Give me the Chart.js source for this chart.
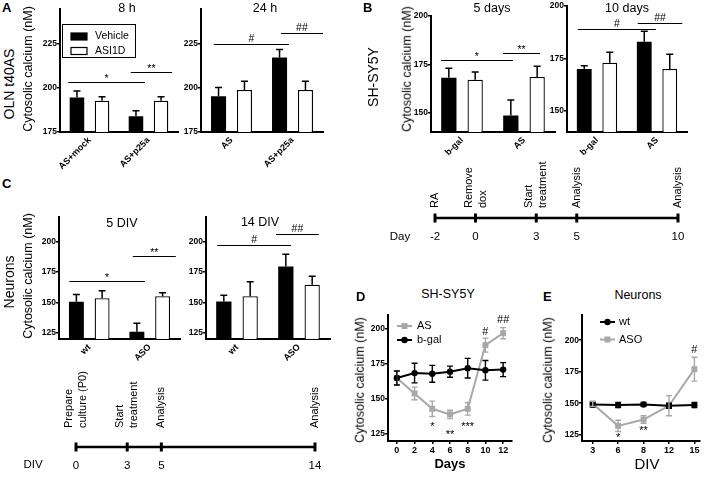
<!DOCTYPE html>
<html><head><meta charset="utf-8">
<script src="https://cdn.jsdelivr.net/npm/chart.js@4.4.1/dist/chart.umd.min.js"></script>
<style>
body{margin:0;background:#fff;}
#fig{position:relative;width:709px;height:482px;overflow:hidden;background:#fff;font-family:"Liberation Sans",Arial,sans-serif;color:#000;}
canvas{position:absolute;}
.t{position:absolute;white-space:nowrap;line-height:1;transform:translate(-50%,-50%);}
.t.r{transform:translate(-50%,-50%) rotate(-90deg);}
.t.c{transform:none;}
</style></head><body><div id="fig"></div>
<script>
// ---- data ----
var gray = '#a8a8a8';
var seriesNames = ['Vehicle', 'ASI1D'];

var cats8h = ['AS+mock', 'AS+p25a'];
var veh8h = [194.7, 183.9], veh8hErr = [3.6, 3.2];
var asi8h = [192.8, 192.8], asi8hErr = [2.2, 2.2];
var cats24h = ['AS', 'AS+p25a'];
var veh24h = [195.3, 217.4], veh24hErr = [5, 4.5];
var asi24h = [198.9, 198.9], asi24hErr = [5, 5];
var ticksA = [175, 200, 225];

var catsB = ['b-gal', 'AS'];
var veh5d = [168, 148.5], veh5dErr = [5, 8];
var asi5d = [167, 168.5], asi5dErr = [4, 5.5];
var veh10d = [170, 183], veh10dErr = [1.5, 5];
var asi10d = [173, 170], asi10dErr = [5, 7];
var ticksB = [150, 175, 200];

var catsC = ['wt', 'ASO'];
var veh5div = [150.5, 126], veh5divErr = [6, 7];
var asi5div = [153.5, 155], asi5divErr = [6, 3];
var veh14div = [150.8, 179.5], veh14divErr = [5, 10];
var asi14div = [155, 164.5], asi14divErr = [12, 7];
var ticksC = [125, 150, 175, 200];

// significance bars: [from, to (category units), level (nM), mark]
var sig8h = [[-0.36, 0.94, 203.2, '*'], [0.70, 1.40, 208.9, '**']];
var sig24h = [[-0.29, 0.94, 225.2, '#'], [0.81, 1.5, 231.6, '##']];
var sig5d = [[-0.34, 0.82, 177, '*'], [0.66, 1.26, 181, '**']];
var sig10d = [[-0.32, 0.98, 189, '#'], [0.68, 1.42, 191.8, '##']];
var sig5div = [[-0.33, 0.92, 167.8, '*'], [0.72, 1.43, 188, '**']];
var sig14div = [[-0.32, 0.87, 197, '#'], [0.63, 1.32, 205.8, '##']];

var daysB = [-2, 0, 3, 5, 10];
var eventsB = ['RA', 'Remove\ndox', 'Start\ntreatment', 'Analysis', 'Analysis'];
var daysC = [0, 3, 5, 14];
var eventsC = ['Prepare\nculture (P0)', 'Start\ntreatment', 'Analysis', 'Analysis'];

var daysD = [0, 2, 4, 6, 8, 10, 12];
var asD = [165, 154, 143, 139, 143, 188.5, 197], asDErr = [5, 4.5, 5.5, 3, 4.5, 5, 4];
var bgalD = [165, 168.5, 168, 169.5, 172, 170.5, 171], bgalDErr = [5, 7, 6, 4, 7, 7, 5];
var ticksDx = [0, 2, 4, 6, 8, 10, 12];
var ticksDy = [125, 150, 175, 200];
var notesD = [[4, 132.6, '*'], [6, 126.6, '**'], [8, 132.6, '***'], [10, 198.8, '#'], [12, 206.9, '##']];

var divE = ['3', '6', '8', '12', '15'];
var wtE = [149, 148.5, 149, 148, 148.5], wtEErr = [2, 2, 1.5, 2, 2];
var asoE = [149.5, 132, 137, 148, 177], asoEErr = [2, 4.5, 3, 8, 9.5];
var ticksEy = [125, 150, 175, 200];
var notesE = [[1, 124.8, '*'], [2, 130.9, '**'], [4, 193, '#']];

// ---- helpers ----
var FONT = '"Liberation Sans", Arial, sans-serif';
Chart.defaults.font.family = FONT;
Chart.defaults.color = '#000';
var fig = document.getElementById('fig');

function mkCanvas(l, t, w, h) {
  var c = document.createElement('canvas');
  c.width = w; c.height = h;
  c.style.left = l + 'px'; c.style.top = t + 'px';
  c.style.width = w + 'px'; c.style.height = h + 'px';
  fig.appendChild(c);
  return c;
}
function txt(s, x, y, size, o) {
  o = o || {};
  var d = document.createElement('div');
  d.className = 't' + (o.rot ? ' r' : '') + (o.corner ? ' c' : '');
  d.textContent = s;
  d.style.left = x + 'px'; d.style.top = y + 'px';
  d.style.fontSize = size + 'px';
  if (o.bold) d.style.fontWeight = 'bold';
  fig.appendChild(d);
}
function markText(ctx, s, x, yc, size) {
  // place the glyphs so their visual centre sits on yc
  var off = s.indexOf('#') >= 0 ? 0.36 : 0.57;
  ctx.font = size + 'px ' + FONT;
  ctx.textAlign = 'center';
  ctx.textBaseline = 'alphabetic';
  ctx.fillText(s, x, yc + off * size);
}
function setTicks(list) {
  return function (s) { s.ticks = list.map(function (v) { return { value: v }; }); };
}
var tickFont = { family: FONT, size: 8.5, weight: 'bold' };

function barChart(o) {
  var padL = 30, padT = 14, padR = 8, axH = 40;
  var w = o.box[2] - o.box[0], h = o.box[3] - o.box[1];
  var cv = mkCanvas(o.box[0] - padL, o.box[1] - padT, w + padL + padR, h + padT + axH);
  var decor = {
    id: 'decor',
    afterDatasetsDraw: function (chart) {
      var ctx = chart.ctx, xs = chart.scales.x, ys = chart.scales.y;
      ctx.save();
      ctx.strokeStyle = '#000'; ctx.fillStyle = '#000'; ctx.lineWidth = 1.5;
      chart.data.datasets.forEach(function (ds, i) {
        chart.getDatasetMeta(i).data.forEach(function (bar, j) {
          var top = ys.getPixelForValue(ds.data[j] + ds.err[j]);
          ctx.beginPath();
          ctx.moveTo(bar.x, bar.y); ctx.lineTo(bar.x, top);
          ctx.moveTo(bar.x - 3.5, top); ctx.lineTo(bar.x + 3.5, top);
          ctx.stroke();
        });
      });
      ctx.lineWidth = 1.2;
      o.sigs.forEach(function (s) {
        var a = xs.getPixelForValue(s[0]), b = xs.getPixelForValue(s[1]);
        var y = Math.round(ys.getPixelForValue(s[2])) + 0.5;
        ctx.beginPath(); ctx.moveTo(a, y); ctx.lineTo(b, y); ctx.stroke();
        markText(ctx, s[3], (a + b) / 2, y - 6.5, 10.5);
      });
      ctx.restore();
    },
    afterDraw: function (chart) {
      if (!o.legend) return;
      var ctx = chart.ctx, a = chart.chartArea, L = o.legend;
      var x = a.left + L.dx, y = a.top + L.dy;
      ctx.save();
      ctx.lineWidth = 1; ctx.strokeStyle = '#000';
      ctx.strokeRect(x + 0.5, y + 0.5, L.w, L.h);
      ctx.font = '10.5px ' + FONT; ctx.textBaseline = 'middle'; ctx.textAlign = 'left';
      chart.data.datasets.forEach(function (ds, i) {
        var yy = y + 12.5 + i * 14.5;
        ctx.fillStyle = ds.backgroundColor;
        ctx.fillRect(x + 9, yy - 3.5, 16, 7);
        ctx.lineWidth = 1.2; ctx.strokeRect(x + 9, yy - 3.5, 16, 7);
        ctx.fillStyle = '#000';
        ctx.fillText(ds.label, x + 33, yy);
      });
      ctx.restore();
    }
  };
  new Chart(cv, {
    type: 'bar',
    data: {
      labels: o.labels,
      datasets: [
        { label: seriesNames[0], data: o.veh, err: o.vehErr, backgroundColor: '#000', borderColor: '#000', borderWidth: 0,
          categoryPercentage: 0.85, barPercentage: 0.58 },
        { label: seriesNames[1], data: o.asi, err: o.asiErr, backgroundColor: '#fff', borderColor: '#000', borderWidth: 1.3,
          categoryPercentage: 0.85, barPercentage: 0.58 }
      ]
    },
    options: {
      responsive: false, animation: false,
      layout: { padding: { top: padT, right: padR, left: 0, bottom: 0 } },
      plugins: { legend: { display: false }, tooltip: { enabled: false } },
      scales: {
        x: {
          afterFit: function (s) { s.height = axH; },
          grid: { display: false, drawTicks: false },
          border: { display: true, color: '#000', width: 2 },
          ticks: { minRotation: 45, maxRotation: 45, padding: 3, autoSkip: false,
            font: { family: FONT, size: 9, weight: 'bold' }, color: '#000' }
        },
        y: {
          min: o.yMin, max: o.yMax,
          afterBuildTicks: setTicks(o.yTicks),
          afterFit: function (s) { s.width = padL; },
          grid: { display: true, drawOnChartArea: false, drawTicks: true, tickLength: 3, lineWidth: 1.5, color: '#000' },
          border: { display: true, color: '#000', width: 2 },
          ticks: { padding: 0, font: tickFont, color: '#000' }
        }
      }
    },
    plugins: [decor]
  });
}

function lineChart(o) {
  var padL = 30, padT = 10, padR = 10, axH = 20;
  var w = o.box[2] - o.box[0], h = o.box[3] - o.box[1];
  var cv = mkCanvas(o.box[0] - padL, o.box[1] - padT, w + padL + padR, h + padT + axH);
  var datasets = o.series.map(function (s) {
    return {
      label: s.name, data: o.xs.map(function (x, i) { return { x: x, y: s.values[i] }; }), err: s.err,
      borderColor: s.color, backgroundColor: s.color, pointBackgroundColor: s.color, pointBorderColor: s.color,
      pointStyle: s.marker, pointRadius: s.marker === 'rect' ? 4.2 : 3.2, pointBorderWidth: 0,
      borderWidth: 2, tension: 0, order: s.order
    };
  });
  var decor = {
    id: 'decor',
    afterDatasetsDraw: function (chart) {
      var ctx = chart.ctx, xs = chart.scales.x, ys = chart.scales.y;
      ctx.save();
      ctx.lineWidth = 1.4;
      chart.data.datasets.forEach(function (ds, i) {
        ctx.strokeStyle = ds.borderColor;
        chart.getDatasetMeta(i).data.forEach(function (pt, j) {
          var v = ds.data[j].y, e = ds.err[j];
          var t = ys.getPixelForValue(v + e), b = ys.getPixelForValue(v - e);
          ctx.beginPath();
          ctx.moveTo(pt.x, t); ctx.lineTo(pt.x, b);
          ctx.moveTo(pt.x - 3, t); ctx.lineTo(pt.x + 3, t);
          ctx.moveTo(pt.x - 3, b); ctx.lineTo(pt.x + 3, b);
          ctx.stroke();
        });
      });
      ctx.fillStyle = '#000';
      o.notes.forEach(function (n) {
        markText(ctx, n[2], xs.getPixelForValue(n[0]), ys.getPixelForValue(n[1]), 11);
      });
      // legend
      var a = chart.chartArea, L = o.legend;
      ctx.font = '11px ' + FONT; ctx.textAlign = 'left'; ctx.textBaseline = 'middle';
      chart.data.datasets.forEach(function (ds, i) {
        var x = a.left + L.dx, y = a.top + L.first + i * L.step;
        ctx.strokeStyle = ds.borderColor; ctx.fillStyle = ds.borderColor; ctx.lineWidth = 2;
        ctx.beginPath(); ctx.moveTo(x, y); ctx.lineTo(x + 15, y); ctx.stroke();
        ctx.beginPath();
        if (ds.pointStyle === 'rect') ctx.rect(x + 4.5, y - 3, 6, 6);
        else ctx.arc(x + 7.5, y, 3.2, 0, Math.PI * 2);
        ctx.fill();
        ctx.fillStyle = '#000';
        ctx.fillText(ds.label, x + L.tx, y);
      });
      ctx.restore();
    }
  };
  new Chart(cv, {
    type: 'line',
    data: { datasets: datasets },
    options: {
      responsive: false, animation: false,
      layout: { padding: { top: padT, right: padR, left: 0, bottom: 0 } },
      plugins: { legend: { display: false }, tooltip: { enabled: false } },
      scales: {
        x: {
          type: 'linear', min: o.xMin, max: o.xMax,
          afterBuildTicks: setTicks(o.xTicks),
          afterFit: function (s) { s.height = axH; },
          grid: { display: true, drawOnChartArea: false, drawTicks: true, tickLength: 3, lineWidth: 1.5, color: '#000' },
          border: { display: true, color: '#000', width: 2 },
          ticks: {
            padding: 1, autoSkip: false, maxRotation: 0, font: { family: FONT, size: 9, weight: 'bold' }, color: '#000',
            callback: function (v) { return o.xLabels ? o.xLabels[v] : String(v); }
          }
        },
        y: {
          min: o.yMin, max: o.yMax,
          afterBuildTicks: setTicks(o.yTicks),
          afterFit: function (s) { s.width = padL; },
          grid: { display: true, drawOnChartArea: false, drawTicks: true, tickLength: 3, lineWidth: 1.5, color: '#000' },
          border: { display: true, color: '#000', width: 2 },
          ticks: { padding: 0, font: tickFont, color: '#000' }
        }
      }
    },
    plugins: [decor]
  });
}

function timeline(o) {
  var padL = 20, padR = 20, axH = 22;
  var w = o.area[2] - o.area[0], h = o.area[3] - o.area[1];
  var cv = mkCanvas(o.area[0] - padL, o.area[1] - o.above, w + padL + padR, h + o.above + axH + 2);
  var events = {
    id: 'events',
    afterDraw: function (chart) {
      var ctx = chart.ctx, xs = chart.scales.x, a = chart.chartArea;
      ctx.save();
      ctx.fillStyle = '#000';
      ctx.font = '11px ' + FONT; ctx.textAlign = 'left'; ctx.textBaseline = 'middle';
      o.days.forEach(function (d, i) {
        var lines = o.events[i].split('\n');
        ctx.save();
        ctx.translate(xs.getPixelForValue(d), a.top - o.gap);
        ctx.rotate(-Math.PI / 2);
        lines.forEach(function (ln, k) { ctx.fillText(ln, 0, (k - (lines.length - 1) / 2) * 14); });
        ctx.restore();
      });
      ctx.restore();
    }
  };
  new Chart(cv, {
    type: 'line',
    data: { datasets: [{
      data: o.days.map(function (d) { return { x: d, y: 0 }; }),
      borderColor: '#000', borderWidth: 2.5, tension: 0, clip: false,
      pointStyle: 'line', pointRotation: 90, pointRadius: 4.5, pointBorderWidth: 3, pointBorderColor: '#000'
    }] },
    options: {
      responsive: false, animation: false,
      layout: { padding: { top: o.above, left: padL, right: padR, bottom: 2 } },
      plugins: { legend: { display: false }, tooltip: { enabled: false } },
      scales: {
        x: {
          type: 'linear', min: o.min, max: o.max,
          afterBuildTicks: setTicks(o.days),
          afterFit: function (s) { s.height = axH; },
          border: { display: false }, grid: { display: false, drawTicks: false },
          ticks: { autoSkip: false, maxRotation: 0, padding: o.tickPad, color: '#000',
            font: { family: FONT, size: 11.5 }, callback: function (v) { return String(v); } }
        },
        y: { display: false, min: -1, max: 1 }
      }
    },
    plugins: [events]
  });
}

// ---- panel A ----
barChart({ box: [60, 9, 178, 132], labels: cats8h, veh: veh8h, vehErr: veh8hErr, asi: asi8h, asiErr: asi8hErr,
  yMin: 175, yMax: 245, yTicks: ticksA, sigs: sig8h, legend: { dx: 2, dy: 15, w: 73, h: 33 } });
barChart({ box: [201, 9, 323, 132], labels: cats24h, veh: veh24h, vehErr: veh24hErr, asi: asi24h, asiErr: asi24hErr,
  yMin: 175, yMax: 245, yTicks: ticksA, sigs: sig24h });
// ---- panel B ----
barChart({ box: [431, 16, 555, 132], labels: catsB, veh: veh5d, vehErr: veh5dErr, asi: asi5d, asiErr: asi5dErr,
  yMin: 140, yMax: 200, yTicks: ticksB, sigs: sig5d });
barChart({ box: [567, 6, 687, 132], labels: catsB, veh: veh10d, vehErr: veh10dErr, asi: asi10d, asiErr: asi10dErr,
  yMin: 140, yMax: 200, yTicks: ticksB, sigs: sig10d });
timeline({ area: [435, 212, 678, 224], min: -2, max: 10, days: daysB, events: eventsB, above: 62, gap: 4, tickPad: 6 });
// ---- panel C ----
barChart({ box: [59, 217, 180, 339], labels: catsC, veh: veh5div, vehErr: veh5divErr, asi: asi5div, asiErr: asi5divErr,
  yMin: 120, yMax: 220, yTicks: ticksC, sigs: sig5div });
barChart({ box: [206, 217, 330, 339], labels: catsC, veh: veh14div, vehErr: veh14divErr, asi: asi14div, asiErr: asi14divErr,
  yMin: 120, yMax: 220, yTicks: ticksC, sigs: sig14div });
timeline({ area: [76, 441, 315, 453], min: 0, max: 14, days: daysC, events: eventsC, above: 72, gap: 13, tickPad: 6 });
// ---- panel D ----
lineChart({ box: [388, 315, 512, 441], xs: daysD, xMin: -1, xMax: 13, xTicks: ticksDx,
  yMin: 120, yMax: 210, yTicks: ticksDy, notes: notesD,
  series: [
    { name: 'AS', values: asD, err: asDErr, color: gray, marker: 'rect', order: 2 },
    { name: 'b-gal', values: bgalD, err: bgalDErr, color: '#000', marker: 'circle', order: 1 }
  ],
  legend: { dx: 9, first: 11, step: 14, tx: 20 } });
// ---- panel E ----
lineChart({ box: [582, 315, 700, 441], xs: divE.map(function (d, i) { return i; }), xLabels: divE,
  xMin: -0.42, xMax: 4.22, xTicks: [0, 1, 2, 3, 4],
  yMin: 120, yMax: 220, yTicks: ticksEy, notes: notesE,
  series: [
    { name: 'wt', values: wtE, err: wtEErr, color: '#000', marker: 'circle', order: 1 },
    { name: 'ASO', values: asoE, err: asoEErr, color: gray, marker: 'rect', order: 2 }
  ],
  legend: { dx: 18, first: 7, step: 17.5, tx: 19 } });

// ---- text ----
txt('A', 2, 1, 13, { bold: true, corner: true });
txt('B', 363, 1, 13, { bold: true, corner: true });
txt('C', 2, 177, 13, { bold: true, corner: true });
txt('D', 356, 290, 13, { bold: true, corner: true });
txt('E', 543, 290, 13, { bold: true, corner: true });

txt('OLN t40AS', 9, 84, 14, { rot: true });
txt('Cytosolic calcium (nM)', 28, 69, 12.5, { rot: true });
txt('SH-SY5Y', 373, 77, 14, { rot: true });
txt('Cytosolic calcium (nM)', 407, 69, 12.5, { rot: true });
txt('Neurons', 9, 282, 14, { rot: true });
txt('Cytosolic calcium (nM)', 28, 276, 12.5, { rot: true });
txt('Cytosolic calcium (nM)', 360, 380, 12.5, { rot: true });
txt('Cytosolic calcium (nM)', 548, 380, 12.5, { rot: true });

txt('8 h', 127, 8, 12.5);
txt('24 h', 265, 8, 12.5);
txt('5 days', 492, 8, 12.5);
txt('10 days', 627, 8, 12.5);
txt('5 DIV', 122, 223, 12.5);
txt('14 DIV', 260, 222, 12.5);
txt('SH-SY5Y', 448, 294, 12.5);
txt('Neurons', 638, 295, 12.5);
txt('Days', 450, 463, 13, { bold: true });
txt('DIV', 647, 463, 15);
txt('Day', 400, 237, 11.5);
txt('DIV', 33, 465, 11.5);
</script></body></html>
